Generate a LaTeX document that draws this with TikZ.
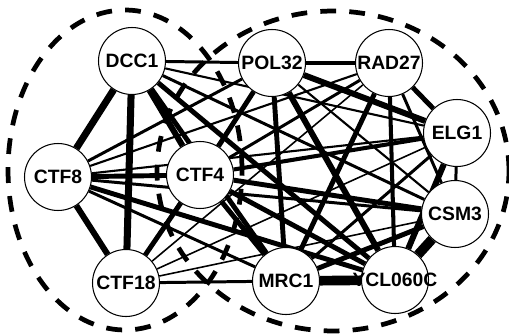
\documentclass[tikz,border=0pt]{standalone}
\usepackage{fontspec}
\setmainfont{Liberation Sans}
\usetikzlibrary{backgrounds}

\begin{document}
\begin{tikzpicture}[x=0.02cm, y=-0.02cm,
    gene/.style={circle, draw, fill=white, line width=0.6pt, minimum size=1.34cm,
      inner sep=0pt, font=\bfseries\fontsize{11}{13}\selectfont},
    group/.style={line width=2.7pt, dash pattern=on 9pt off 7.5pt},
    e1/.style={line width=0.9pt},
    e2/.style={line width=1.2pt},
    e3/.style={line width=1.7pt},
    e4/.style={line width=2.3pt},
    e5/.style={line width=2.8pt},
    e6/.style={line width=3.4pt},
    e7/.style={line width=4pt},
    e8/.style={line width=5.5pt}]
    \useasboundingbox (0,0) rectangle (509,334);

    \node[gene] (dcc1) at (132,61) {DCC1};
    \node[gene] (pol32) at (272,63) {POL32};
    \node[gene] (rad27) at (389,63) {RAD27};
    \node[gene] (elg1) at (457,133) {ELG1};
    \node[gene] (csm3) at (455,214) {CSM3};
    \node[gene] (ycl060c) at (395,280) {\makebox[0pt][c]{YCL060C}};
    \node[gene] (mrc1) at (286,281) {MRC1};
    \node[gene] (ctf18) at (126,283) {CTF18};
    \node[gene] (ctf8) at (58,177) {CTF8};
    \node[gene] (ctf4) at (200,175) {CTF4};

    \begin{scope}[on background layer]
    \path[e3] (dcc1) edge (pol32);
    \path[e7] (dcc1) edge (ctf8);
    \path[e7] (dcc1) edge (ctf18);
    \path[e6] (dcc1) edge (ctf4);
    \path[e5] (dcc1) edge (mrc1);
    \path[e5] (dcc1) edge (ycl060c);
    \path[e3] (dcc1) edge (csm3);
    \path[e2] (dcc1) edge (elg1);

    \path[e5] (pol32) edge (rad27);
    \path[e6] (pol32) edge (elg1);
    \path[e2] (pol32) edge (csm3);
    \path[e6] (pol32) edge (ycl060c);
    \path[e5] (pol32) edge (mrc1);
    \path[e5] (pol32) edge (ctf4);
    \path[e2] (pol32) edge (ctf18);
    \path[e3] (pol32) edge (ctf8);

    \path[e5] (rad27) edge (elg1);
    \path[e3] (rad27) edge (csm3);
    \path[e4] (rad27) edge (ycl060c);
    \path[e5] (rad27) edge (mrc1);
    \path[e3] (rad27) edge (ctf4);
    \path[e2] (rad27) edge (ctf8);
    \path[e1] (rad27) edge (ctf18);

    \path[e3] (elg1) edge (csm3);
    \path[e6] (elg1) edge (ycl060c);
    \path[e3] (elg1) edge (mrc1);
    \path[e4] (elg1) edge (ctf4);
    \path[e2] (elg1) edge (ctf8);
    \path[e1] (elg1) edge (ctf18);

    \path[e8] (csm3) edge (ycl060c);
    \path[e5] (csm3) edge (mrc1);
    \path[e5] (csm3) edge (ctf4);
    \path[e3] (csm3) edge (ctf8);
    \path[e1] (csm3) edge (ctf18);

    \path[e5] (ycl060c) edge (ctf4);
    \path[e5] (ycl060c) edge (ctf8);

    \path[e5] (mrc1) edge (ctf4);
    \path[e3] (mrc1) edge (ctf8);
    \path[e3] (mrc1) edge (ctf18);

    \path[e6] (ctf18) edge (ctf8);
    \path[e5] (ctf18) edge (ctf4);
    \path[e5] (ctf8) edge (ctf4);
    \end{scope}

    \path[e8] (mrc1) edge (ycl060c);

    \draw[group] (125,170) ellipse (2.34cm and 3.2cm);
    \draw[group] (333,171) ellipse (3.52cm and 3.2cm);
\end{tikzpicture}
\end{document}
